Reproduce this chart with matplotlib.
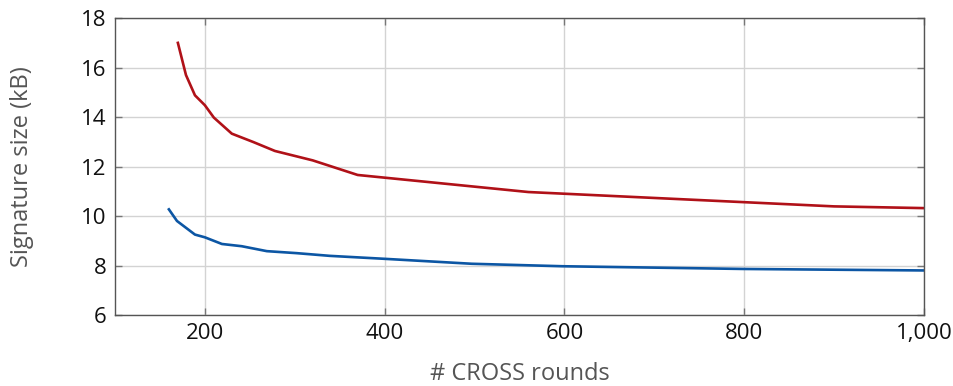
import matplotlib
matplotlib.use("Agg")
import matplotlib.pyplot as plt
from matplotlib.ticker import FuncFormatter

plt.rcParams['font.family'] = ['Open Sans', 'DejaVu Sans']

# red curve (upper)
rounds_a = [170, 179, 189, 200, 210, 230, 254, 278, 320, 370, 560, 800, 900, 1000]
size_a = [17.0, 15.7, 14.88, 14.48, 13.98, 13.33, 12.99, 12.63, 12.25, 11.66, 10.97, 10.56, 10.39, 10.32]

# blue curve (lower)
rounds_b = [160, 169, 189, 200, 219, 241, 269, 302, 339, 400, 497, 598, 800, 1000]
size_b = [10.27, 9.80, 9.25, 9.14, 8.87, 8.78, 8.58, 8.50, 8.39, 8.27, 8.07, 7.97, 7.86, 7.80]

xticks = [200, 400, 600, 800, 1000]
yticks = [6, 8, 10, 12, 14, 16, 18]

fig = plt.figure(figsize=(9.54, 3.86), dpi=100)
ax = fig.add_axes([0.1205, 0.184, 0.848, 0.769])

ax.plot(rounds_a, size_a, color='#b01118', lw=1.9, solid_joinstyle='round')
ax.plot(rounds_b, size_b, color='#0c56a4', lw=1.9, solid_joinstyle='round')

ax.set_xlim(100, 1000)
ax.set_ylim(6, 18)
ax.set_xticks(xticks)
ax.set_yticks(yticks)
ax.xaxis.set_major_formatter(FuncFormatter(lambda v, p: f"{int(v):,}"))

ax.grid(True, color='#d3d3d3', lw=1.0)
ax.set_axisbelow(True)
for s in ax.spines.values():
    s.set_color('#555555')
    s.set_linewidth(1.0)
ax.tick_params(direction='in', length=5, width=1, color='#777777',
               top=True, right=True, labelsize=16, labelcolor='#111111', pad=6)

ax.set_xlabel('# CROSS rounds', fontsize=17, color='#555555', labelpad=13)
ax.set_ylabel('Signature size (kB)', fontsize=17, color='#555555', labelpad=34)

fig.savefig('out.png', dpi=100)
